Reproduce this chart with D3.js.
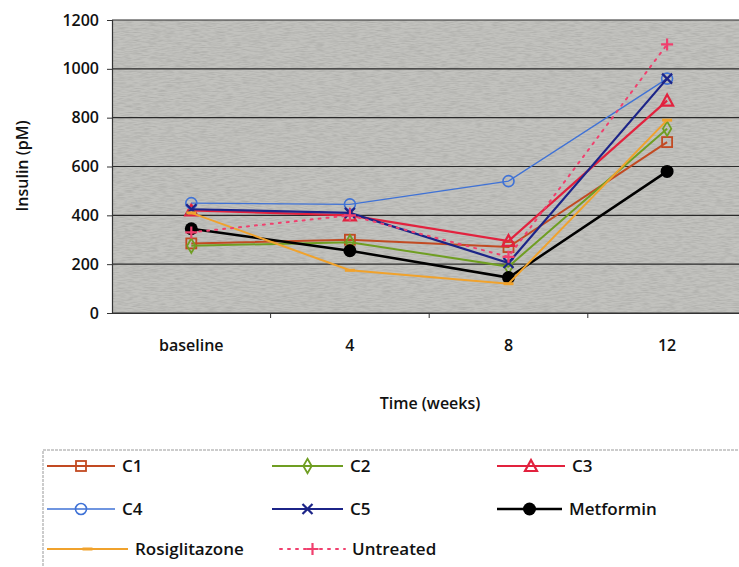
<!DOCTYPE html>
<html>
<head>
<meta charset="utf-8">
<script src="https://cdn.jsdelivr.net/npm/d3@7"></script>
<style>
  body { margin: 0; background: #fff; }
  svg { display: block; font-family: "Comic Sans MS", "Open Sans", sans-serif; }
</style>
</head>
<body>
<svg id="chart"></svg>
<script>
// time points
const weeks = ['baseline', '4', '8', '12']
const yTicks = [0, 200, 400, 600, 800, 1000, 1200]

// insulin (pM) per group
const c1 = [285, 300, 270, 700]
const c2 = [275, 290, 190, 755]
const c3 = [420, 400, 295, 870]
const c4 = [450, 445, 540, 960]
const c5 = [425, 410, 205, 960]
const metformin = [345, 255, 145, 580]
const rosiglitazone = [410, 175, 120, 790]
const untreated = [330, 400, 230, 1100]

const series = [
    { name: 'C1', values: c1, color: '#c24a22', width: 2, symbol: 'square' },
    { name: 'C2', values: c2, color: '#6f9e22', width: 2, symbol: 'diamond' },
    { name: 'C3', values: c3, color: '#e2223e', width: 2.2, symbol: 'triangle' },
    { name: 'C4', values: c4, color: '#3f72d6', width: 1.3, symbol: 'circle' },
    { name: 'C5', values: c5, color: '#1c2488', width: 2.2, symbol: 'x' },
    { name: 'Metformin', values: metformin, color: '#000000', width: 2.5, symbol: 'dot' },
    { name: 'Rosiglitazone', values: rosiglitazone, color: '#f0a22c', width: 2, symbol: 'dash' },
    { name: 'Untreated', values: untreated, color: '#f0406e', width: 2, symbol: 'plus', dashed: true }
]

let svgWidth = 739
let svgHeight = 567
let fontFam = '"Comic Sans MS", "Open Sans", sans-serif'

let svg = d3.select('#chart')
    .attr('width', svgWidth)
    .attr('height', svgHeight)

let plot = { left: 112, top: 20, bottom: 313, band: 158.6 }

let x = d3.scaleBand()
    .domain(weeks)
    .range([plot.left, plot.left + plot.band * weeks.length])

let y = d3.scaleLinear()
    .domain([0, 1200])
    .range([plot.bottom, plot.top])

// grainy grey plot background
let defs = svg.append('defs')
let filter = defs.append('filter').attr('id', 'grain')
    .attr('x', 0).attr('y', 0).attr('width', 1).attr('height', 1)
filter.append('feTurbulence')
    .attr('type', 'fractalNoise')
    .attr('baseFrequency', '0.12 1.2')
    .attr('numOctaves', 2)
    .attr('seed', 3)
filter.append('feColorMatrix')
    .attr('type', 'matrix')
    .attr('values', '0 0 0 0 0  0 0 0 0 0  0 0 0 0 0  -1.2 0 0 0 0.75')

let plotRight = x.range()[1]

svg.append('rect')
    .attr('x', plot.left)
    .attr('y', plot.top)
    .attr('width', plotRight - plot.left)
    .attr('height', plot.bottom - plot.top)
    .attr('fill', '#c2c2be')

svg.append('rect')
    .attr('x', plot.left)
    .attr('y', plot.top)
    .attr('width', plotRight - plot.left)
    .attr('height', plot.bottom - plot.top)
    .attr('filter', 'url(#grain)')
    .attr('opacity', 0.16)

// gridlines
svg.selectAll('.grid')
    .data(yTicks)
    .enter()
    .append('line')
    .attr('x1', plot.left)
    .attr('x2', plotRight)
    .attr('y1', d => y(d))
    .attr('y2', d => y(d))
    .attr('stroke', '#2a2a2a')
    .attr('stroke-width', 1.2)

// y axis
let yAxis = svg.append('g')
    .attr('transform', 'translate(' + plot.left + ',0)')
    .call(d3.axisLeft(y).tickValues(yTicks).tickFormat(d3.format('d')).tickSize(5).tickPadding(8))
yAxis.select('.domain').attr('stroke', '#333').attr('stroke-width', 1.2)
yAxis.selectAll('.tick line').attr('stroke', '#333')
yAxis.selectAll('text')
    .attr('font-size', 16)
    .attr('font-weight', 600)
    .attr('font-family', fontFam)
    .attr('fill', '#111')

// x axis
let xAxis = svg.append('g')
    .attr('transform', 'translate(0,' + plot.bottom + ')')
    .call(d3.axisBottom(x).tickSize(0).tickPadding(27))
xAxis.select('.domain').attr('stroke', '#333').attr('stroke-width', 1.2)
xAxis.selectAll('text')
    .attr('font-size', 16)
    .attr('font-weight', 600)
    .attr('font-family', fontFam)
    .attr('fill', '#111')

// category separators
svg.selectAll('.sep')
    .data(weeks.slice(1))
    .enter()
    .append('line')
    .attr('x1', d => x(d))
    .attr('x2', d => x(d))
    .attr('y1', plot.bottom)
    .attr('y2', plot.bottom + 5)
    .attr('stroke', '#333')

// axis titles
svg.append('text')
    .attr('x', 430)
    .attr('y', 409)
    .attr('text-anchor', 'middle')
    .attr('font-size', 16)
    .attr('font-weight', 600)
    .attr('fill', '#111')
    .text('Time (weeks)')

svg.append('text')
    .attr('transform', 'translate(28,166) rotate(-90)')
    .attr('text-anchor', 'middle')
    .attr('font-size', 16)
    .attr('font-weight', 600)
    .attr('fill', '#111')
    .text('Insulin (pM)')

function cx(d, i) {
    return x(weeks[i]) + x.bandwidth() / 2
}

function drawSymbol(g, s, px, py) {
    if (s.symbol == 'square') {
        g.append('rect').attr('x', px - 5).attr('y', py - 5).attr('width', 10).attr('height', 10)
            .attr('fill', 'none').attr('stroke', s.color).attr('stroke-width', 1.8)
    }
    else if (s.symbol == 'diamond') {
        g.append('path').attr('d', d3.symbol(d3.symbolDiamond, 60)())
            .attr('transform', 'translate(' + px + ',' + py + ')')
            .attr('fill', 'none').attr('stroke', s.color).attr('stroke-width', 1.8)
    }
    else if (s.symbol == 'triangle') {
        g.append('path').attr('d', 'M0,-6L6,5L-6,5Z')
            .attr('transform', 'translate(' + px + ',' + py + ')')
            .attr('fill', 'none').attr('stroke', s.color).attr('stroke-width', 2.2)
    }
    else if (s.symbol == 'circle') {
        g.append('circle').attr('cx', px).attr('cy', py).attr('r', 5.5)
            .attr('fill', 'none').attr('stroke', s.color).attr('stroke-width', 1.6)
    }
    else if (s.symbol == 'x') {
        g.append('path').attr('d', 'M-5,-5L5,5M-5,5L5,-5')
            .attr('transform', 'translate(' + px + ',' + py + ')')
            .attr('stroke', s.color).attr('stroke-width', 2.2)
    }
    else if (s.symbol == 'dot') {
        g.append('circle').attr('cx', px).attr('cy', py).attr('r', 6.5)
            .attr('fill', s.color)
    }
    else if (s.symbol == 'dash') {
        g.append('path').attr('d', 'M-5,0L5,0')
            .attr('transform', 'translate(' + px + ',' + py + ')')
            .attr('stroke', s.color).attr('stroke-width', 3)
    }
    else if (s.symbol == 'plus') {
        g.append('path').attr('d', 'M-6,0L6,0M0,-6L0,6')
            .attr('transform', 'translate(' + px + ',' + py + ')')
            .attr('stroke', s.color).attr('stroke-width', 2.2)
    }
}

let line = d3.line()
    .x(cx)
    .y(d => y(d))

let groups = svg.selectAll('.series')
    .data(series)
    .enter()
    .append('g')

groups.append('path')
    .attr('d', d => line(d.values))
    .attr('fill', 'none')
    .attr('stroke', d => d.color)
    .attr('stroke-width', d => d.width)
    .attr('stroke-dasharray', d => d.dashed ? '2,6' : null)
    .attr('stroke-linecap', d => d.dashed ? 'round' : 'butt')

groups.each(function (s) {
    let g = d3.select(this)
    s.values.forEach((v, i) => drawSymbol(g, s, cx(v, i), y(v)))
})

// legend
let legendBox = { x: 43, y: 450 }
svg.append('rect')
    .attr('x', legendBox.x)
    .attr('y', legendBox.y)
    .attr('width', 720)
    .attr('height', 140)
    .attr('fill', '#fff')
    .attr('stroke', '#999')
    .attr('stroke-dasharray', '3,1')

let legendPos = [
    { x1: 47, x2: 115, ty: 466 },
    { x1: 272, x2: 343, ty: 466 },
    { x1: 497, x2: 565, ty: 466 },
    { x1: 47, x2: 115, ty: 509 },
    { x1: 272, x2: 343, ty: 509 },
    { x1: 497, x2: 562, ty: 509 },
    { x1: 47, x2: 128, ty: 549 },
    { x1: 280, x2: 345, ty: 549 }
]

let legend = svg.selectAll('.legend')
    .data(series)
    .enter()
    .append('g')

legend.each(function (s, i) {
    let g = d3.select(this)
    let p = legendPos[i]
    g.append('line')
        .attr('x1', p.x1).attr('x2', p.x2)
        .attr('y1', p.ty).attr('y2', p.ty)
        .attr('stroke', s.color)
        .attr('stroke-width', s.width)
        .attr('stroke-dasharray', s.dashed ? '2,6' : null)
        .attr('stroke-linecap', s.dashed ? 'round' : 'butt')
    drawSymbol(g, s, (p.x1 + p.x2) / 2, p.ty)
    g.append('text')
        .attr('x', p.x2 + 7)
        .attr('y', p.ty)
        .attr('dy', '0.36em')
        .attr('font-size', 17)
        .attr('font-weight', 600)
        .attr('fill', '#111')
        .text(s.name)
})
</script>
</body>
</html>
